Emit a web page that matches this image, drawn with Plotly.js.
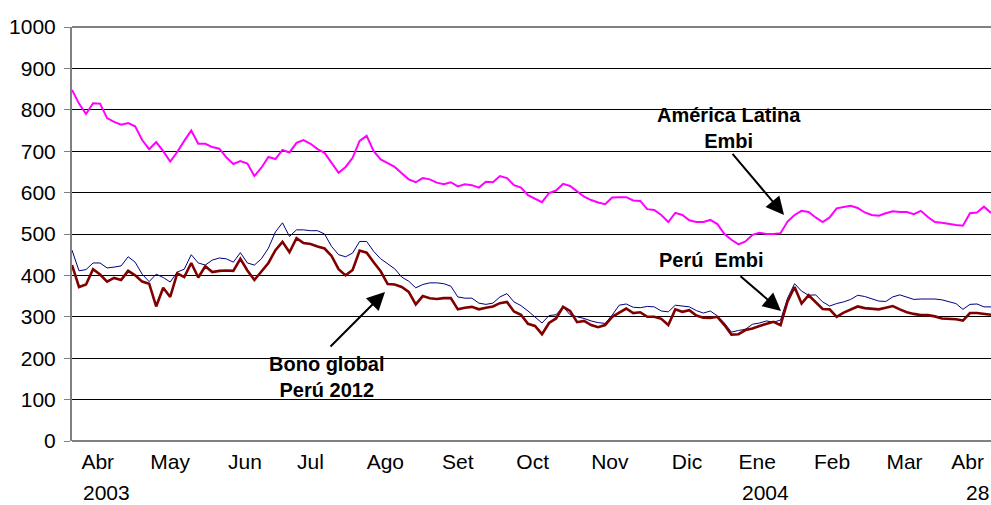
<!DOCTYPE html>
<html><head><meta charset="utf-8">
<script src="https://cdn.plot.ly/plotly-3.0.1.min.js"></script>
<style>html,body{margin:0;padding:0;background:#fff}#chart{width:991px;height:505px}</style>
</head><body><div id="chart"></div>
<script>
// Dates (every 3 days, 1 Apr 2003 – 28 Apr 2004)
const dates = [
"2003-04-01","2003-04-04","2003-04-07","2003-04-10","2003-04-13","2003-04-16","2003-04-19","2003-04-22","2003-04-25","2003-04-28",
"2003-05-01","2003-05-04","2003-05-07","2003-05-10","2003-05-13","2003-05-16","2003-05-19","2003-05-22","2003-05-25","2003-05-28",
"2003-05-31","2003-06-03","2003-06-06","2003-06-09","2003-06-12","2003-06-15","2003-06-18","2003-06-21","2003-06-24","2003-06-27",
"2003-06-30","2003-07-03","2003-07-06","2003-07-09","2003-07-12","2003-07-15","2003-07-18","2003-07-21","2003-07-24","2003-07-27",
"2003-07-30","2003-08-02","2003-08-05","2003-08-08","2003-08-11","2003-08-14","2003-08-17","2003-08-20","2003-08-23","2003-08-26",
"2003-08-29","2003-09-01","2003-09-04","2003-09-07","2003-09-10","2003-09-13","2003-09-16","2003-09-19","2003-09-22","2003-09-25",
"2003-09-28","2003-10-01","2003-10-04","2003-10-07","2003-10-10","2003-10-13","2003-10-16","2003-10-19","2003-10-22","2003-10-25",
"2003-10-28","2003-10-31","2003-11-03","2003-11-06","2003-11-09","2003-11-12","2003-11-15","2003-11-18","2003-11-21","2003-11-24",
"2003-11-27","2003-11-30","2003-12-03","2003-12-06","2003-12-09","2003-12-12","2003-12-15","2003-12-18","2003-12-21","2003-12-24",
"2003-12-27","2003-12-30","2004-01-02","2004-01-05","2004-01-08","2004-01-11","2004-01-14","2004-01-17","2004-01-20","2004-01-23",
"2004-01-26","2004-01-29","2004-02-01","2004-02-04","2004-02-07","2004-02-10","2004-02-13","2004-02-16","2004-02-19","2004-02-22",
"2004-02-25","2004-02-28","2004-03-02","2004-03-05","2004-03-08","2004-03-11","2004-03-14","2004-03-17","2004-03-20","2004-03-23",
"2004-03-26","2004-03-29","2004-04-01","2004-04-04","2004-04-07","2004-04-10","2004-04-13","2004-04-16","2004-04-19","2004-04-22",
"2004-04-25","2004-04-28"
];

const americaLatina = [
848,815,790,816,815,780,771,764,768,760,
727,705,722,700,675,698,725,750,718,718,
710,706,685,669,676,670,640,660,686,681,
703,697,720,727,718,705,696,672,648,662,
684,725,737,700,680,671,662,647,632,625,
635,632,624,620,625,615,620,618,612,626,
625,640,635,618,612,594,585,577,599,605,
621,616,603,590,582,576,572,588,589,589,
581,580,560,558,546,529,551,546,533,529,
529,534,524,500,486,475,482,498,503,500,
500,502,530,546,556,553,540,529,540,562,
565,568,563,552,546,544,550,555,553,553,
548,556,541,529,527,524,522,520,550,552,
566,551
];

const peruEmbi = [
461,411,414,430,430,418,420,423,445,432,
403,385,403,395,384,408,415,450,430,425,
437,442,440,432,455,430,425,440,466,505,
527,494,510,510,508,508,500,470,450,445,
454,482,482,458,440,428,416,396,386,370,
378,382,382,380,374,348,345,345,333,330,
333,348,356,336,327,314,300,285,303,305,
324,305,300,296,290,286,284,304,328,331,
323,322,325,324,314,312,328,326,324,315,
309,314,302,285,263,267,270,282,285,290,
287,292,345,380,362,352,353,336,326,332,
336,342,352,349,344,338,337,348,353,347,
342,343,343,343,341,337,332,318,330,331,
324,324
];

const bonoGlobal = [
425,372,378,415,402,385,394,389,411,400,
385,380,325,370,348,405,396,430,395,422,
408,411,412,411,440,412,389,410,430,461,
481,456,490,478,476,470,465,447,415,400,
413,460,455,432,410,379,378,372,360,330,
350,345,343,345,345,318,322,324,318,322,
325,333,336,313,305,283,278,258,285,296,
324,314,287,290,280,275,280,300,310,320,
309,311,300,300,295,280,318,312,316,303,
298,297,300,280,257,258,268,272,278,283,
288,280,337,372,332,352,335,319,318,300,
310,318,325,321,320,318,322,326,318,311,
307,304,304,301,296,295,294,291,309,309,
307,305
];

const monthTickDates = ["2003-04-12","2003-05-13","2003-06-14","2003-07-12","2003-08-13","2003-09-13","2003-10-15","2003-11-17","2003-12-20","2004-01-19","2004-02-20","2004-03-22","2004-04-18"];
const monthLabels = ["Abr","May","Jun","Jul","Ago","Set","Oct","Nov","Dic","Ene","Feb","Mar","Abr"];
const yearLabels = ["2003","2004","28"];

const FONT = "Liberation Sans, Arial, sans-serif";

const traces = [
  {x: dates, y: americaLatina, name: "América Latina Embi", type: "scatter", mode: "lines",
   line: {color: "#FF00FF", width: 2}, hoverinfo: "skip"},
  {x: dates, y: peruEmbi, name: "Perú Embi", type: "scatter", mode: "lines",
   line: {color: "#000080", width: 1}, hoverinfo: "skip"},
  {x: dates, y: bonoGlobal, name: "Bono global Perú 2012", type: "scatter", mode: "lines",
   line: {color: "#800000", width: 2.6}, hoverinfo: "skip"}
];

const arrowStyle = {text: " ", font: {size: 1}, showarrow: true, arrowhead: 2, arrowsize: 1.8,
  arrowwidth: 2, arrowcolor: "#000", xref: "paper", yref: "paper", standoff: 0, startstandoff: 0};

const layout = {
  width: 991, height: 505,
  margin: {l: 72, r: 0, t: 27, b: 64, pad: 0},
  paper_bgcolor: "#fff", plot_bgcolor: "#fff",
  showlegend: false,
  font: {family: FONT, size: 21, color: "#000"},
  xaxis: {
    type: "date", range: ["2003-04-01", "2004-04-28"],
    tickmode: "array", tickvals: monthTickDates, ticktext: monthLabels,
    showgrid: false, zeroline: false, showline: false, ticks: "",
    tickfont: {family: FONT, size: 21, color: "#000"}, ticklabelstandoff: 6
  },
  yaxis: {
    range: [0, 1000], tick0: 0, dtick: 100,
    showgrid: true, gridcolor: "#000", gridwidth: 1,
    zeroline: true, zerolinecolor: "#808080", zerolinewidth: 2,
    showline: true, linecolor: "#808080", linewidth: 2,
    ticks: "outside", ticklen: 6, tickcolor: "#808080", tickwidth: 1,
    tickfont: {family: FONT, size: 21, color: "#000"}, ticklabelstandoff: 4
  },
  shapes: [
    {type: "line", xref: "paper", yref: "paper", x0: 0, x1: 1, y0: 1, y1: 1, line: {color: "#808080", width: 2}}
  ],
  annotations: [
    {text: yearLabels[0], xref: "paper", yref: "paper", x: 0.0098, y: -0.1232, xanchor: "left", yanchor: "middle", showarrow: false, font: {family: FONT, size: 21, color: "#000"}},
    {text: yearLabels[1], xref: "paper", yref: "paper", x: 0.7269, y: -0.1232, xanchor: "left", yanchor: "middle", showarrow: false, font: {family: FONT, size: 21, color: "#000"}},
    {text: yearLabels[2], xref: "paper", yref: "paper", x: 1.0, y: -0.1232, xanchor: "right", yanchor: "middle", showarrow: false, font: {family: FONT, size: 21, color: "#000"}},
    {text: "<b>América Latina</b><br><b>Embi</b>", xref: "paper", yref: "paper", x: 0.7149, y: 0.7572, xanchor: "center", yanchor: "middle", showarrow: false, font: {family: FONT, size: 20, color: "#000"}},
    {text: "<b>Perú  Embi</b>", xref: "paper", yref: "paper", x: 0.6953, y: 0.4372, xanchor: "center", yanchor: "middle", showarrow: false, font: {family: FONT, size: 20, color: "#000"}},
    {text: "<b>Bono global</b><br><b>Perú 2012</b>", xref: "paper", yref: "paper", x: 0.2775, y: 0.1546, xanchor: "center", yanchor: "middle", showarrow: false, font: {family: FONT, size: 20, color: "#000"}},
    Object.assign({x: 0.7748, y: 0.5459, ax: -53, ay: -63}, arrowStyle),
    Object.assign({x: 0.7715, y: 0.3140, ax: -42, ay: -36}, arrowStyle),
    Object.assign({x: 0.3406, y: 0.3599, ax: -56, ay: 56}, arrowStyle)
  ]
};

Plotly.newPlot("chart", traces, layout, {displayModeBar: false, staticPlot: true});
</script></body></html>
